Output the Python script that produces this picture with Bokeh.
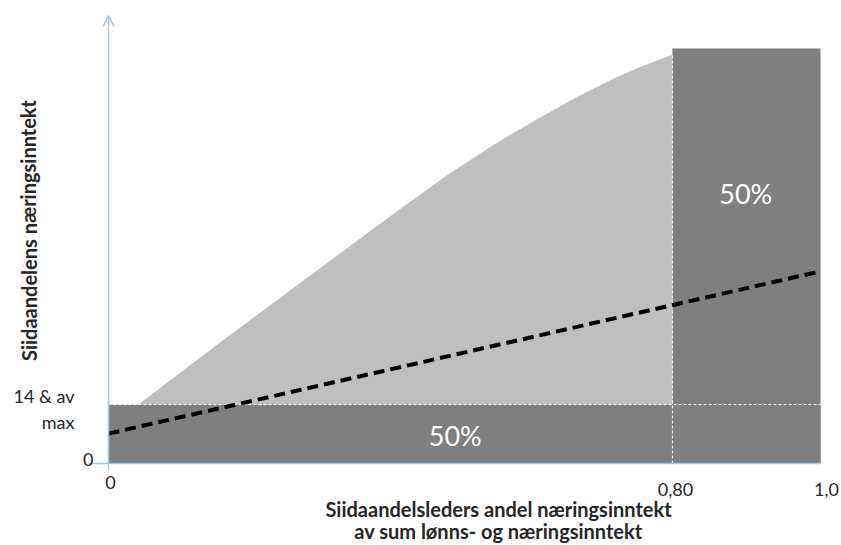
from bokeh.plotting import figure
from bokeh.models import Range1d, Label, Arrow, OpenHead
from bokeh.embed import file_html
from bokeh.resources import INLINE

# ---- data (conceptual units: x = share 0..1, y = 0..1 of max) ----
threshold = 0.142          # "14 & av max" level
split_x = 0.792            # break point on x axis (labelled 0,80)
top_y = 1.0
curve_x = [0.042, 0.157, 0.251, 0.344, 0.410, 0.476, 0.54, 0.60, 0.66, 0.71, 0.75, 0.792]
curve_y = [0.142, 0.292, 0.412, 0.530, 0.614, 0.695, 0.767, 0.828, 0.885, 0.928, 0.958, 0.985]
line_x = [0.0, 1.0]
line_y = [0.072, 0.463]
x_ticks = [0.0, split_x, 1.0]
x_tick_labels = ["0", "0,80", "1,0"]
share_labels = ["50%", "50%"]

DARK = "#7f7f7f"
LIGHT = "#bfbfbf"
BLUE = "#a4c6e9"
FONT = "Lato"
TXT = "#262626"

W, H = 841, 545
XS, YS = 712.0, 415.0   # pixels per unit
p = figure(width=W, height=H, output_backend="svg", toolbar_location=None,
           x_range=Range1d(-108 / XS, (W - 108) / XS),
           y_range=Range1d((463 - H) / YS, 463 / YS),
           min_border=0, min_border_left=0, min_border_right=0,
           min_border_top=0, min_border_bottom=0)
p.axis.visible = False
p.grid.visible = False
p.outline_line_color = None
p.background_fill_color = "white"

# light grey area under curve
px = curve_x + [split_x, curve_x[0]]
py = curve_y + [0.0, 0.0]
p.patch(px, py, fill_color=LIGHT, line_color=None)

# dark bands
p.quad(left=[0.0, split_x], right=[1.0, 1.0], bottom=[0.0, 0.0],
       top=[threshold, top_y], fill_color=DARK, line_color=None)

# white dashed guides
p.line([0.0, 1.0], [threshold, threshold], line_color="white", line_width=1,
       line_dash="3 2")
p.line([split_x, split_x], [0.0, curve_y[-1]], line_color="white", line_width=1,
       line_dash="3 2")

# black dashed line
p.line(line_x, line_y, line_color="black", line_width=4, line_dash="11 6")

# axes lines
p.line([-20 / XS, 1.0], [0.0, 0.0], line_color=BLUE, line_width=1.5)
p.line([0.0, 0.0], [-7 / YS, 0.0], line_color=BLUE, line_width=1.5)
p.add_layout(Arrow(x_start=0.0, y_start=0.0, x_end=0.0, y_end=448 / YS,
                   line_color=BLUE, line_width=1.5,
                   end=OpenHead(size=11, line_color=BLUE, line_width=1.5)))

# percent labels
p.add_layout(Label(x=0.487, y=0.067, text=share_labels[0], text_color="white",
                   text_font=FONT, text_font_size="27px",
                   text_align="center", text_baseline="middle"))
p.add_layout(Label(x=0.895, y=0.651, text=share_labels[1], text_color="white",
                   text_font=FONT, text_font_size="27px",
                   text_align="center", text_baseline="middle"))

# x tick labels
tick_y = [-19 / YS, -26 / YS, -26 / YS]
tick_dx = [2 / XS, 3 / XS, 6 / XS]
for xv, lab, ty, dx in zip(x_ticks, x_tick_labels, tick_y, tick_dx):
    p.add_layout(Label(x=xv + dx, y=ty, text=lab, text_font=FONT,
                       text_font_size="18px", text_color=TXT,
                       text_align="center", text_baseline="middle"))

# y tick labels
p.add_layout(Label(x=-34 / XS, y=68 / YS, text="14 & av", text_font=FONT,
                   text_font_size="18px", text_color=TXT,
                   text_align="right", text_baseline="middle"))
p.add_layout(Label(x=-34 / XS, y=42 / YS, text="max", text_font=FONT,
                   text_font_size="18px", text_color=TXT,
                   text_align="right", text_baseline="middle"))
p.add_layout(Label(x=-15 / XS, y=4 / YS, text="0", text_font=FONT,
                   text_font_size="18px", text_color=TXT,
                   text_align="right", text_baseline="middle"))

# axis titles
p.add_layout(Label(x=390 / XS, y=-45 / YS, text="Siidaandelsleders andel næringsinntekt",
                   text_font=FONT, text_font_size="20px", text_font_style="bold",
                   text_color=TXT, text_align="center", text_baseline="middle"))
p.add_layout(Label(x=390 / XS, y=-67 / YS, text="av sum lønns- og næringsinntekt",
                   text_font=FONT, text_font_size="20px", text_font_style="bold",
                   text_color=TXT, text_align="center", text_baseline="middle"))
p.add_layout(Label(x=-80 / XS, y=233 / YS, text="Siidaandelens næringsinntekt",
                   text_font=FONT, text_font_size="20px", text_font_style="bold",
                   text_color=TXT, text_align="center", text_baseline="middle",
                   angle=1.5708))

open("out.html", "w").write(file_html(p, INLINE))
